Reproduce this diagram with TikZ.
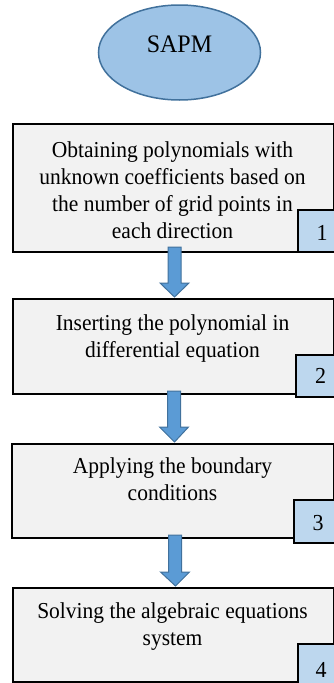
\documentclass[tikz,border=0pt]{standalone}
\usepackage{fontspec}
\usepackage{graphicx}
\setmainfont{Liberation Serif}
\usetikzlibrary{shapes.geometric,calc}
\definecolor{ellfill}{HTML}{9DC3E6}
\definecolor{ellline}{HTML}{41719C}
\definecolor{boxfill}{HTML}{F2F2F2}
\definecolor{numfill}{HTML}{BDD7EE}
\definecolor{arrfill}{HTML}{5B9BD5}
\definecolor{arrline}{HTML}{41719C}
\newcommand{\boxlines}[1]{\scalebox{1}[1.06]{\fontsize{21.5pt}{25.7pt}\selectfont\begin{tabular}[t]{@{}c@{}}#1\end{tabular}}}
\newcommand{\numtext}[1]{\scalebox{1}[1.04]{\fontsize{22pt}{26pt}\selectfont #1}}
\tikzset{
  stepbox/.style={draw=black, line width=1.8pt, fill=boxfill, rectangle, inner sep=0pt},
  numbox/.style={draw=black, line width=1.5pt, fill=numfill, rectangle, inner sep=0pt},
  txt/.style={inner sep=0pt, anchor=base},
  numtxt/.style={inner sep=0pt, anchor=base},
  blockarrow/.style={fill=arrfill, draw=arrline, line width=1pt, line join=miter},
}
\begin{document}
\begin{tikzpicture}[x=1pt,y=-1pt]
\useasboundingbox (0,0) rectangle (334,683);
% start ellipse
\node[ellipse, draw=ellline, line width=1.5pt, fill=ellfill, minimum width=162pt, minimum height=95pt,
      inner sep=0pt, font=\fontsize{24pt}{28pt}\selectfont, text height=17pt, text depth=17pt] (start) at (179.5,52.5) {\scalebox{1}[1.05]{SAPM}};
% boxes
\node[stepbox, minimum width=321pt, minimum height=128pt, anchor=north west] (b1) at (12,123) {};
\node[stepbox, minimum width=321pt, minimum height=95pt, anchor=north west] (b2) at (12,298) {};
\node[stepbox, minimum width=322pt, minimum height=94pt, anchor=north west] (b3) at (11,443) {};
\node[stepbox, minimum width=321pt, minimum height=94pt, anchor=north west] (b4) at (12,587) {};
% texts
\node[txt] (t1) at (172.5,157) {\boxlines{Obtaining polynomials with\\unknown coefficients based on\\the number of grid points in\\each direction}};
\node[txt] (t2) at (172.5,330) {\boxlines{Inserting the polynomial in\\differential equation}};
\node[txt] (t3) at (172.5,473) {\boxlines{Applying the boundary\\conditions}};
\node[txt] (t4) at (172.5,618) {\boxlines{Solving the algebraic equations\\system}};
% number boxes
\node[numbox, minimum width=50pt, minimum height=42pt, anchor=north west] (n1) at (297,209) {};
\node[numbox, minimum width=50pt, minimum height=42pt, anchor=north west] (n2) at (295,354) {};
\node[numbox, minimum width=50pt, minimum height=43pt, anchor=north west] (n3) at (293,499) {};
\node[numbox, minimum width=50pt, minimum height=45pt, anchor=north west] (n4) at (297,643) {};
\node[numtxt] (l1) at (322,240) {\numtext{1}};
\node[numtxt] (l2) at (320.5,383) {\numtext{2}};
\node[numtxt] (l3) at (318,530) {\numtext{3}};
\node[numtxt] (l4) at (321,677) {\numtext{4}};
% block arrows
\coordinate (a1s) at (174.5,247); \coordinate (a1h) at (174.5,283); \coordinate (a1e) at (174.5,297);
\coordinate (a2s) at (174,391);   \coordinate (a2h) at (174,427);   \coordinate (a2e) at (174.5,442);
\coordinate (a3s) at (175,535);   \coordinate (a3h) at (175,572);   \coordinate (a3e) at (175.5,586);
\foreach \a in {a1,a2,a3}{
  \draw[blockarrow] ($(\a s)+(-6.5,0)$) -- ($(\a s)+(6.5,0)$) -- ($(\a h)+(6.5,0)$) -- ($(\a h)+(14.5,0)$)
     -- (\a e) -- ($(\a h)+(-14.5,0)$) -- ($(\a h)+(-6.5,0)$) -- cycle;
}
\end{tikzpicture}
\end{document}
